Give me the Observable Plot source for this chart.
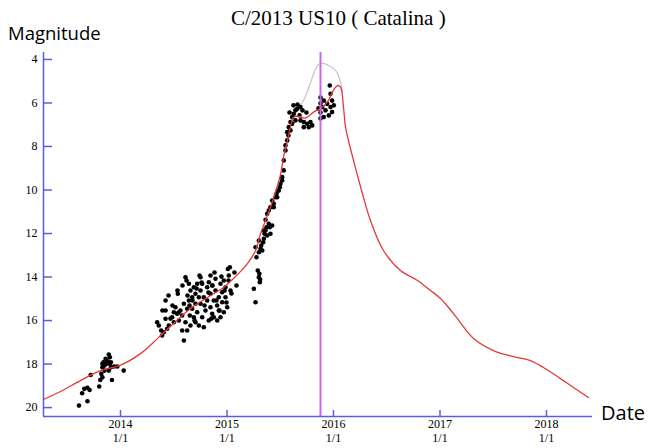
<!DOCTYPE html>
<html><head><meta charset="utf-8">
<script src="https://cdn.jsdelivr.net/npm/d3@7"></script>
<script src="https://cdn.jsdelivr.net/npm/@observablehq/plot@0.6"></script>
<style>
html,body{margin:0;padding:0;background:#fff;}
#wrap{position:relative;width:659px;height:448px;overflow:hidden;background:#fff;}
#chart{position:absolute;left:0;top:0;}
.lbl{position:absolute;white-space:nowrap;color:#000;}
#title{left:231px;top:6px;font-family:"Liberation Serif",serif;font-size:21px;}
#ylab{left:8px;top:20px;font-family:"Open Sans",sans-serif;font-size:18.5px;}
#xlab{left:601px;top:399px;font-family:"Open Sans",sans-serif;font-size:20px;}
</style></head>
<body>
<div id="wrap">
  <div id="chart"></div>
  <div class="lbl" id="title">C/2013 US10 ( Catalina )</div>
  <div class="lbl" id="ylab">Magnitude</div>
  <div class="lbl" id="xlab">Date</div>
</div>
<script>
// ---- data (decimal years, magnitudes) ----
const curveYear = [2013.277,2013.437,2013.624,2013.812,2014.000,2014.188,2014.347,2014.498,2014.657,2014.817,2014.967,2015.061,2015.192,2015.268,2015.315,2015.362,2015.408,2015.455,2015.502,2015.531,2015.568,2015.596,2015.624,2015.662,2015.737,2015.812,2015.878,2015.944,2016.000,2016.038,2016.066,2016.094,2016.113,2016.188,2016.272,2016.347,2016.469,2016.629,2016.789,2016.911,2017.005,2017.127,2017.315,2017.502,2017.690,2017.850,2017.972,2018.131,2018.254,2018.394];
const curveMag  = [19.63,19.26,18.76,18.30,18.05,17.52,16.83,16.14,15.45,14.94,14.48,14.07,13.38,12.78,12.01,11.40,10.79,10.10,9.30,8.49,7.72,7.11,6.65,6.61,6.69,6.42,6.25,5.95,5.41,5.20,5.27,6.19,7.11,8.64,10.17,11.40,12.78,13.70,14.16,14.62,14.99,15.68,16.83,17.38,17.66,17.84,18.16,18.67,19.08,19.54];

const greyYear = [2015.653,2015.718,2015.775,2015.822,2015.859,2015.906,2015.953,2016.000,2016.038,2016.066,2016.085];
const greyMag  = [6.34,5.89,5.20,4.55,4.23,4.18,4.28,4.41,4.64,5.06,5.52];

const obsYear = [
  2013.61,2013.69,2013.64,2013.66,2013.69,2013.71,2013.72,2013.80,2013.81,2013.82,2013.83,2013.83,2013.84,2013.85,2013.86,2013.87,2013.88,2013.89,2013.90,2013.90,2013.91,2013.91,2013.92,2013.89,2013.94,2013.97,2014.03,2013.83,2013.85,
  2014.344,2014.360,2014.382,2014.391,2014.407,2014.423,2014.423,2014.438,2014.454,2014.485,2014.501,2014.501,2014.516,2014.532,2014.538,2014.548,2014.563,2014.579,2014.579,2014.595,2014.595,2014.610,2014.610,2014.626,2014.626,2014.642,2014.642,2014.651,2014.657,2014.657,2014.673,2014.673,2014.689,2014.689,2014.704,2014.704,2014.704,2014.720,2014.720,2014.736,2014.736,2014.751,2014.751,2014.751,2014.767,2014.767,2014.782,2014.782,2014.798,2014.814,2014.814,2014.829,2014.829,2014.845,2014.845,2014.845,2014.861,2014.861,2014.876,2014.876,2014.892,2014.892,2014.908,2014.908,2014.923,2014.923,2014.939,2014.939,2014.955,2014.955,2014.970,2014.970,2014.986,2014.986,2015.002,2015.008,2015.017,2015.027,2015.033,
  2014.423,2014.451,2014.488,2014.535,2014.582,2014.629,2014.676,2014.714,2014.761,2014.789,2014.826,2014.864,2014.901,2014.930,2014.977,2015.014,2014.948,2014.883,2014.742,2014.620,2014.545,2014.469,2014.394,2014.695,2014.854,2014.995,2015.042,2015.070,2015.089,2014.648,
  2015.252,2015.268,2015.289,2015.299,2015.308,2015.304,2015.311,
  2015.277,2015.299,2015.315,2015.331,2015.321,2015.340,2015.346,2015.352,2015.362,2015.371,2015.377,2015.392,2015.402,2015.408,2015.424,2015.362,2015.377,2015.392,2015.408,2015.424,2015.439,2015.455,2015.465,2015.477,2015.496,2015.502,2015.518,2015.268,2015.299,2015.346,2015.439,2015.471,2015.486,2015.518,2015.533,2015.533,2015.549,2015.565,2015.565,2015.580,2015.596,2015.612,2015.627,2015.643,2015.659,2015.690,2015.612,2015.690,2015.721,2015.753,2015.784,2015.768,2015.721,2015.800,
  2015.587,2015.624,2015.662,2015.709,2015.746,2015.681,2015.643,2015.596,2015.577,2015.549,
  2015.965,2015.972,2015.909,2015.941,2015.972,2015.925,2015.987,2015.956,2015.909,2016.003,2015.894,2015.987,2015.878,2015.878,2015.878,2015.878,2015.859
];
const obsMag = [
  19.91,19.71,19.34,19.14,19.09,19.19,18.50,19.03,18.73,18.45,18.15,17.99,17.92,18.07,17.76,17.99,17.87,17.56,17.69,17.99,17.92,18.15,18.73,18.30,18.11,18.11,18.30,18.61,18.30,
  16.08,16.23,16.46,16.69,16.54,15.54,15.92,16.38,16.23,15.85,15.62,16.08,15.39,15.69,14.77,16.00,15.54,16.46,15.77,15.23,16.92,14.01,16.08,15.46,16.46,14.31,15.08,15.77,14.62,16.23,14.93,15.46,14.47,15.85,14.77,15.23,16.08,14.31,15.62,14.93,16.23,14.01,14.62,15.23,15.85,14.31,16.31,14.93,15.54,14.47,15.08,16.00,14.24,13.93,14.77,15.39,15.69,14.39,15.08,15.85,14.62,14.08,15.31,16.00,14.93,15.54,14.31,15.85,14.70,15.16,15.62,14.16,14.47,14.93,15.39,13.63,13.93,13.55,14.62,
  15.08,14.85,15.31,14.62,14.39,14.85,15.08,14.53,14.25,15.31,14.71,14.39,15.08,15.54,14.62,14.16,13.98,13.79,13.93,14.16,15.63,15.91,15.54,16.00,15.91,15.17,14.76,13.79,14.39,15.31,
  14.54,15.16,13.70,14.01,14.24,13.85,14.12,
  13.09,12.86,12.70,12.78,12.55,12.40,12.24,12.01,11.86,11.71,12.09,11.55,11.71,12.01,11.63,11.37,11.09,10.94,10.79,10.48,10.63,10.33,10.17,10.02,9.87,9.71,9.56,12.63,12.32,11.86,10.79,10.33,10.02,9.41,9.10,8.64,8.18,7.72,7.34,7.11,6.88,6.65,6.50,6.34,6.27,6.19,6.96,6.80,6.88,6.96,6.88,7.11,7.11,7.03,
  6.44,6.11,6.07,6.34,6.44,6.57,6.80,7.26,7.49,7.95,
  5.20,5.58,5.89,6.04,6.19,6.34,6.42,6.57,6.65,6.11,6.19,5.89,5.75,6.02,6.44,6.71,6.25
];

const perihelion = [2015.878];
const xTicks = [2014, 2015, 2016, 2017, 2018];
const xTickLabels = ["2014\n1/1", "2015\n1/1", "2016\n1/1", "2017\n1/1", "2018\n1/1"];
const yTicks = [4, 6, 8, 10, 12, 14, 16, 18, 20];
const xDomain = [2013.277, 2018.432];
const yDomain = [3.68, 20.41];

// ---- build tables ----
const curve = curveYear.map((t, i) => ({t, m: curveMag[i]}));
const grey = greyYear.map((t, i) => ({t, m: greyMag[i]}));
const obs = obsYear.map((t, i) => ({t, m: obsMag[i]}));
const labelOf = new Map(xTicks.map((t, i) => [t, xTickLabels[i]]));

const W = 659, H = 448, mL = 43, mR = 67, mT = 52, mB = 32;
const frameW = W - mL - mR, frameH = H - mT - mB;
const axisColor = "#5c5ce0";

const chart = Plot.plot({
  width: W, height: H,
  marginLeft: mL, marginRight: mR, marginTop: mT, marginBottom: mB,
  style: {background: "transparent", fontFamily: "'Liberation Serif', serif", fontSize: "12px", color: "#000"},
  x: {domain: xDomain},
  y: {domain: yDomain, reverse: true},
  marks: [
    Plot.line(grey, {x: "t", y: "m", stroke: "#c4c4c4", strokeWidth: 1.2, curve: "catmull-rom"}),
    Plot.dot(obs, {x: "t", y: "m", r: 2.3, fill: "#000", stroke: "none"}),
    Plot.line(curve, {x: "t", y: "m", stroke: "#e23a3a", strokeWidth: 1.3, curve: "catmull-rom"}),
    Plot.ruleX(perihelion, {x: d => d, stroke: "#c86ae8", strokeWidth: 2}),
    Plot.ruleY(yTicks, {y: d => d, insetRight: frameW - 9, stroke: axisColor, strokeWidth: 1.5}),
    Plot.ruleX(xTicks, {x: d => d, insetTop: frameH - 6, stroke: axisColor, strokeWidth: 1.5}),
    Plot.ruleX([xDomain[0]], {x: d => d, stroke: axisColor, strokeWidth: 1.5}),
    Plot.ruleY([yDomain[1]], {y: d => d, stroke: axisColor, strokeWidth: 1.5}),
    Plot.axisY({ticks: yTicks, tickSize: 0, tickPadding: 6, label: null}),
    Plot.axisX({ticks: xTicks, tickSize: 0, tickPadding: 1, label: null, lineHeight: 1.2, tickFormat: d => labelOf.get(d)})
  ]
});
document.getElementById("chart").appendChild(chart);
</script>
</body></html>
